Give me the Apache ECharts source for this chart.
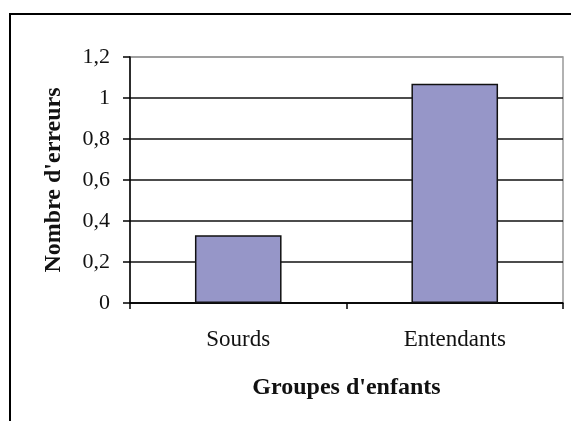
<!DOCTYPE html>
<html>
<head>
<meta charset="utf-8">
<script src="https://cdn.jsdelivr.net/npm/echarts@6/dist/echarts.min.js"></script>
<style>html,body{margin:0;padding:0;background:#fff;}#c{width:571px;height:421px;}</style>
</head>
<body>
<div id="c"></div>
<script>
const categories = ['Sourds', 'Entendants'];
const values = [0.33, 1.07];
const yTickLabels = ['0', '0,2', '0,4', '0,6', '0,8', '1', '1,2'];
const xAxisTitle = "Groupes d'enfants";
const yAxisTitle = "Nombre d'erreurs";

const chart = echarts.init(document.getElementById('c'), null, {renderer: 'canvas'});
const font = 'Liberation Serif';
chart.setOption({
  animation: false,
  backgroundColor: '#fff',
  graphic: [{
    type: 'rect',
    shape: {x: 10, y: 14, width: 700, height: 600},
    style: {fill: 'none', stroke: '#000', lineWidth: 2},
    z: 100
  }],
  grid: {left: 130, top: 57, right: 8, bottom: 118, show: true, borderColor: '#999', borderWidth: 1.5, backgroundColor: '#fff'},
  xAxis: {
    type: 'category',
    data: categories,
    name: xAxisTitle,
    nameLocation: 'middle',
    nameGap: 73,
    nameTextStyle: {fontFamily: font, fontSize: 24, fontWeight: 'bold', color: '#111'},
    axisLine: {lineStyle: {color: '#000', width: 1.5}},
    axisTick: {show: true, length: 6, lineStyle: {color: '#000', width: 1.5}},
    axisLabel: {fontFamily: font, fontSize: 23, color: '#111', margin: 25}
  },
  yAxis: {
    type: 'value',
    min: 0, max: 1.2, interval: 0.2,
    name: yAxisTitle,
    nameLocation: 'middle',
    nameGap: 64,
    nameTextStyle: {fontFamily: font, fontSize: 24, fontWeight: 'bold', color: '#111'},
    axisLine: {show: true, lineStyle: {color: '#000', width: 1.5}},
    axisTick: {show: true, length: 7, lineStyle: {color: '#000', width: 1.5}},
    axisLabel: {
      fontFamily: font, fontSize: 22, color: '#111', margin: 20,
      formatter: function (v) { return yTickLabels[Math.round(v / 0.2)]; }
    },
    splitLine: {show: true, lineStyle: {color: ['#000', '#111', '#111', '#111', '#111', '#111', '#999'], width: 1.5}}
  },
  series: [{
    type: 'bar',
    data: values,
    barWidth: '40%',
    itemStyle: {color: '#9696C8', borderColor: '#111', borderWidth: 1.5}
  }]
});
</script>
</body>
</html>
